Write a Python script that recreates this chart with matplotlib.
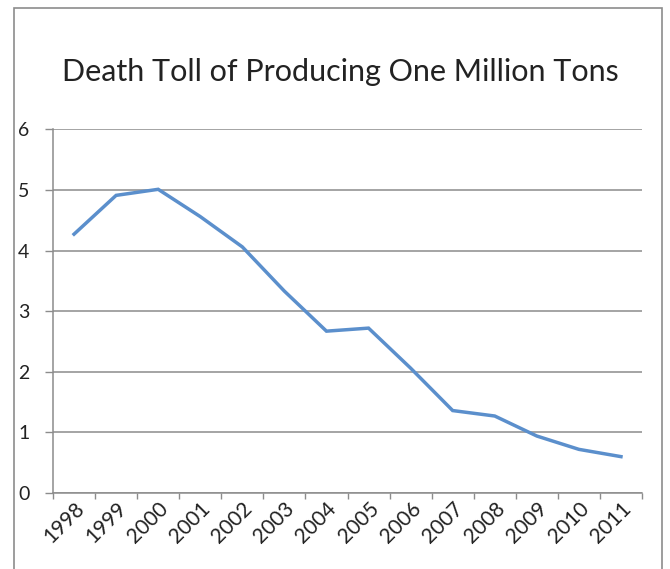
import numpy as np
import matplotlib
matplotlib.use("Agg")
import matplotlib.pyplot as plt
from matplotlib.patches import Rectangle

years = ["1998", "1999", "2000", "2001", "2002", "2003", "2004",
         "2005", "2006", "2007", "2008", "2009", "2010", "2011"]
deaths = [4.27, 4.91, 5.01, 4.56, 4.06, 3.33, 2.67,
          2.72, 2.06, 1.36, 1.27, 0.94, 0.72, 0.60]
yticks = [0, 1, 2, 3, 4, 5, 6]

plt.rcParams['font.family'] = ['Lato', 'DejaVu Sans']

fig = plt.figure(figsize=(6.7, 5.69), dpi=100)
ax = fig.add_axes([53/670, 1-493/569, (642-53)/670, (493-129.3)/569])

# outer chart frame (bottom edge runs off the picture)
fig.patches.append(Rectangle((14/670, -0.05), (662-14)/670, 1.05-8/569,
                             transform=fig.transFigure, fill=False,
                             edgecolor="#8c8c8c", linewidth=1.2))

x = np.arange(len(years))
ax.plot(x, deaths, color="#5b8fcc", linewidth=2.5, solid_joinstyle="miter")

ax.set_xlim(-0.5, len(years)-0.5)
ax.set_ylim(0, 6)
ax.set_yticks(yticks)
ax.set_xticks(np.arange(len(years)+1)-0.5)
ax.set_xticklabels([])
ax.set_xticks(x, minor=True)
ax.set_xticklabels(years, minor=True, rotation=45, ha="right",
                   rotation_mode="anchor", fontsize=15, color="#222222")
ax.tick_params(axis="x", which="minor", length=0, pad=4)
ax.tick_params(axis="x", which="major", length=4.5, color="#8c8c8c", width=1)
ax.tick_params(axis="y", length=6, color="#8c8c8c", width=1,
               labelsize=14, labelcolor="#222222", pad=11)

ax.grid(axis="y", color="#8c8c8c", linewidth=1.1)
ax.set_axisbelow(True)
for s in ["top", "right"]:
    ax.spines[s].set_visible(False)
for s in ["left", "bottom"]:
    ax.spines[s].set_color("#8c8c8c")
    ax.spines[s].set_linewidth(1.1)

fig.text(340/670, 1-72/569, "Death Toll of Producing One Million Tons",
         ha="center", va="center", fontsize=22, color="#222222")

fig.savefig("out.png", dpi=100)
